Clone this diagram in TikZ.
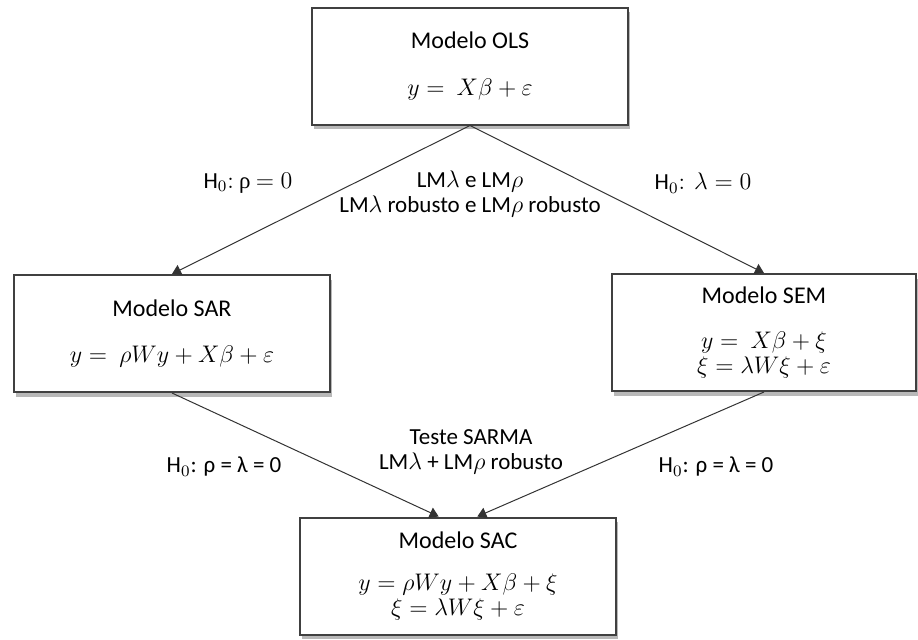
\documentclass[tikz,border=0pt]{standalone}
\usepackage{fontspec}
\setmainfont{Carlito}
\newfontfamily\serifgr{Liberation Serif}
\usetikzlibrary{arrows.meta}
\usetikzlibrary{shadows}
\usetikzlibrary{positioning}

\tikzset{
  modelbox/.style={draw=black!75, line width=1pt, fill=white, minimum width=158pt,
    minimum height=58.5pt, align=center, font=\fontsize{12}{14.4}\selectfont,
    drop shadow={shadow xshift=1.2pt, shadow yshift=-2.4pt, opacity=0.28, fill=black}},
  testlabel/.style={align=center, font=\fontsize{11.5}{12.5}\selectfont},
  flow/.style={-{Triangle[length=4.5pt,width=5.5pt]}, black!80, line width=0.5pt}
}

\begin{document}
\begin{tikzpicture}[x=0.5pt, y=-0.5pt]
        \useasboundingbox (0,0) rectangle (918,639);
        \node[modelbox] at (470,66) (ols) {Modelo OLS\\[9pt] $y =\ X\beta + \varepsilon$};
        \node[modelbox] at (172,333.5) (sar) {Modelo SAR\\[9pt] $y =\ \rho W y + X\beta + \varepsilon$};
        \node[modelbox, minimum width=152pt] at (764,332.5) (sem) {Modelo SEM\\[8pt] $y =\ X\beta + \xi$\\[-1.5pt] $\xi = \lambda W\xi + \varepsilon$};
        \node[modelbox] at (458,576) (sac) {Modelo SAC\\[6.5pt] $y = \rho W y + X\beta + \xi$\\[-1.5pt] $\xi = \lambda W\xi + \varepsilon$};
        \draw[flow] (ols.south) -- (sar.north);
        \draw[flow] (ols.south) -- (sem.north);
        \draw[flow] (sar.south) -- (sac.108);
        \draw[flow] (sem.south) -- (sac.72);
        \node[testlabel] at (248,183) (h0sar) {$\mathrm{H}_0\colon$ {\serifgr ρ} $= 0$};
        \node[testlabel] at (703,183) (h0sem) {$\mathrm{H}_0\colon\ \lambda = 0$};
        \node[testlabel] at (470,194) (lmtop) {LM$\lambda$ e LM$\rho$\\ LM$\lambda$ robusto e LM$\rho$ robusto};
        \node[testlabel] at (471,452) (sarma) {Teste SARMA\\ LM$\lambda$ + LM$\rho$ robusto};
        \node[testlabel] at (224,467) (h0sacl) {H$_0$: ρ = λ = 0};
        \node[testlabel] at (716,467) (h0sacr) {H$_0$: ρ = λ = 0};
      \end{tikzpicture}
\end{document}
